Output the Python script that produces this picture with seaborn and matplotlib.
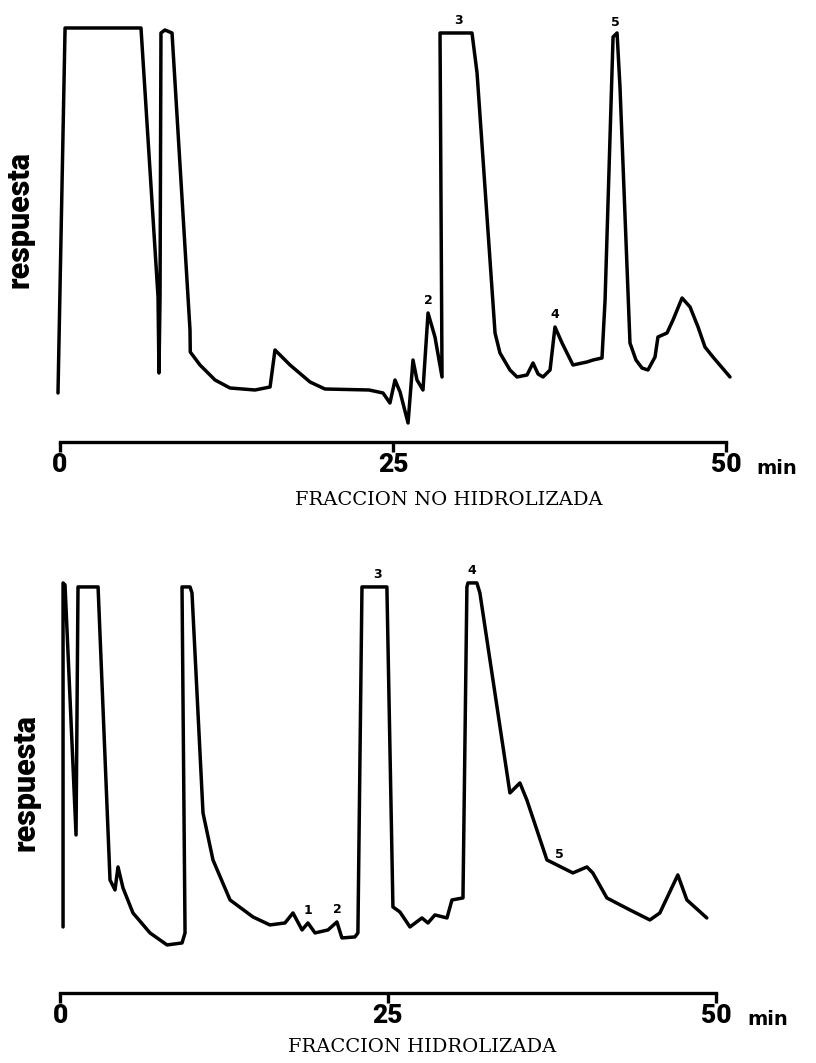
import numpy as np
import pandas as pd
import matplotlib
matplotlib.use("Agg")
import matplotlib.pyplot as plt
import seaborn as sns

# ---------------- data ----------------
# retention time (min) and detector response (arbitrary units)
top_time = [-0.15, 0.38, 6.08, 7.36, 7.43, 7.51, 7.58, 7.88, 8.41, 9.76, 9.78, 10.51,
            11.64, 12.76, 14.64, 15.77, 16.14, 17.27, 18.77, 19.89, 23.2, 24.25, 24.77,
            25.15, 25.53, 26.13, 26.50, 26.80, 27.25, 27.63, 28.15, 28.68, 28.53, 30.93,
            31.31, 32.66, 33.03, 33.78, 34.31, 35.06, 35.51, 35.89, 36.26, 36.79, 37.16,
            37.69, 38.51, 39.56, 40.02, 40.69, 40.92, 41.52, 41.82, 42.04, 42.79, 43.24,
            43.69, 44.14, 44.67, 44.89, 45.57, 46.02, 46.70, 47.30, 47.90, 48.42, 49.02,
            50.30]
top_resp = [49, 414, 414, 145, 69, 145, 409, 412, 409, 112, 90, 77,
            62, 54, 52, 55, 92, 77, 60, 53, 52, 49, 39,
            62, 50, 19, 82, 62, 52, 129, 105, 65, 409, 409,
            369, 109, 89, 72, 65, 67, 79, 68, 65, 72, 115,
            99, 77, 80, 82, 84, 142, 405, 409, 355, 99, 82,
            74, 72, 85, 105, 109, 122, 144, 135, 115, 95, 85,
            65]

bottom_time = [0.23, 0.23, 0.38, 1.22, 1.37, 2.90, 3.81, 4.19, 4.42, 4.80, 5.56, 6.86,
               8.16, 9.30, 9.53, 9.30, 9.91, 10.06, 10.90, 11.66, 12.96, 14.71, 16.0,
               17.15, 17.76, 18.45, 18.90, 19.44, 20.43, 21.11, 21.49, 22.48, 22.71,
               23.02, 24.92, 25.38, 25.91, 26.68, 27.59, 28.05, 28.58, 29.50, 29.88,
               30.72, 31.02, 31.10, 31.78, 32.01, 34.30, 35.06, 35.59, 37.12, 37.58,
               39.10, 40.17, 40.62, 41.69, 43.45, 44.97, 45.73, 47.10, 47.79, 49.31]
bottom_resp = [66, 410, 408, 158, 406, 406, 113, 103, 126, 105, 80, 60,
               48, 50, 60, 406, 406, 400, 180, 133, 93, 76, 68,
               70, 80, 63, 70, 60, 63, 71, 55, 56, 60,
               406, 406, 86, 81, 66, 75, 70, 78, 75, 93,
               95, 406, 410, 410, 400, 200, 210, 193, 133, 130,
               120, 126, 120, 95, 83, 73, 80, 118, 93, 75]

top_peak_ids = ["2", "3", "4", "5"]
top_peak_times = [27.63, 29.9, 37.16, 41.7]
bottom_peak_ids = ["1", "2", "3", "4", "5"]
bottom_peak_times = [18.9, 21.11, 24.2, 31.4, 38.1]

tick_values = [0, 25, 50]
tick_labels = ["0", "25", "50"]
time_unit = "min"
y_label = "respuesta"
panel_titles = ["FRACCION NO HIDROLIZADA", "FRACCION HIDROLIZADA"]

# ---------------- style ----------------
sns.set_theme(style="white")
plt.rcParams["font.family"] = ["DejaVu Sans"]
plt.rcParams["text.color"] = "black"
plt.rcParams["xtick.color"] = "black"
plt.rcParams["axes.labelcolor"] = "black"
HEAVY = ["Roboto", "DejaVu Sans"]

W, H = 816, 1063
fig = plt.figure(figsize=(W / 100, H / 100), dpi=100)
fig.patch.set_facecolor("white")

ax_top = fig.add_axes([0.0572, 0.5842, 0.8815, 0.397])
ax_bot = fig.add_axes([0.0575, 0.0659, 0.868, 0.397])


def trace_height(t, r, T):
    best = None
    for i in range(len(t) - 1):
        t0, t1, r0, r1 = t[i], t[i + 1], r[i], r[i + 1]
        lo, hi = min(t0, t1), max(t0, t1)
        if lo <= T <= hi:
            v = r0 if hi == lo else r0 + (r1 - r0) * (T - t0) / (t1 - t0)
            best = v if best is None else max(best, v)
    return best


def draw(ax, t, r, ids, ptimes, title, title_xy, ylab_xy, min_offset):
    df = pd.DataFrame({"time": t, "resp": r})
    sns.lineplot(data=df, x="time", y="resp", sort=False, estimator=None,
                 color="black", linewidth=2.5, ax=ax)
    ax.set_xlim(-1, 53)
    ax.set_ylim(0, 422)
    ax.set_facecolor("white")
    for s in ["top", "right", "left"]:
        ax.spines[s].set_visible(False)
    ax.spines["bottom"].set_bounds(0, 50)
    ax.spines["bottom"].set_color("black")
    ax.spines["bottom"].set_linewidth(2.4)
    ax.set_yticks([])
    ax.set_xticks(tick_values)
    ax.set_xticklabels(tick_labels, family=HEAVY, fontweight="heavy",
                       fontsize=19, color="black")
    ax.tick_params(axis="x", direction="out", length=7, width=2.4, pad=1,
                   colors="black", bottom=True)
    ax.set_xlabel("")
    ax.set_ylabel("")
    ax.annotate(time_unit, xy=(50, 0), xycoords="data",
                xytext=(min_offset, -19), textcoords="offset points",
                ha="left", va="center", fontsize=14, fontweight="bold",
                color="black")
    for pid, T in zip(ids, ptimes):
        h = trace_height(t, r, T)
        ax.annotate(pid, xy=(T, h), xycoords="data", xytext=(0, 4),
                    textcoords="offset points", ha="center", va="bottom",
                    fontsize=9, fontweight="bold", color="black",
                    annotation_clip=False)
    fig.text(title_xy[0] / W, 1 - title_xy[1] / H, title, family="DejaVu Serif",
             fontsize=14, ha="center", va="center", color="black")
    fig.text(ylab_xy[0] / W, 1 - ylab_xy[1] / H, y_label, family=HEAVY,
             fontweight="heavy", fontsize=22, rotation=90, ha="center",
             va="center", color="black")


draw(ax_top, top_time, top_resp, top_peak_ids, top_peak_times, panel_titles[0],
     (449, 500), (20, 220), 22)
draw(ax_bot, bottom_time, bottom_resp, bottom_peak_ids, bottom_peak_times,
     panel_titles[1], (422, 1047), (25, 783), 23)

fig.savefig("out.png", dpi=100, facecolor="white")
